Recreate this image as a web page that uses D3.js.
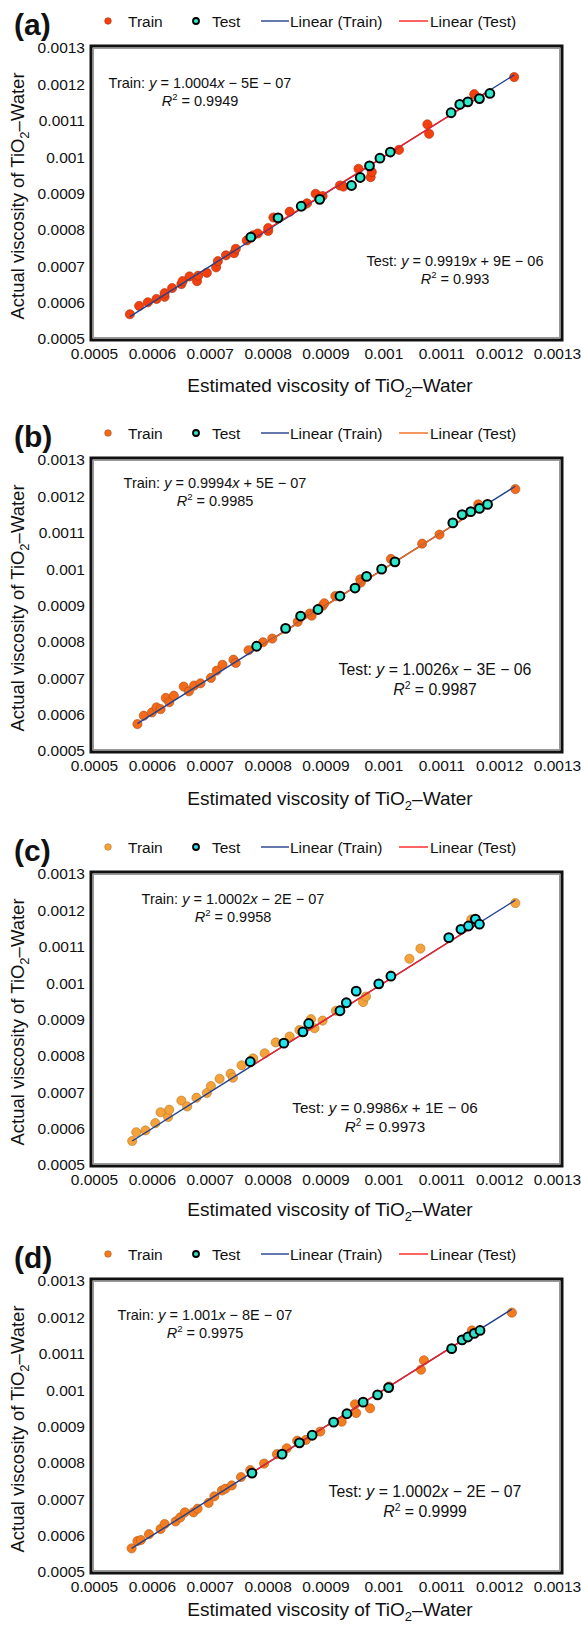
<!DOCTYPE html>
<html>
<head>
<meta charset="utf-8">
<script src="https://cdn.jsdelivr.net/npm/d3@7"></script>
<style>
  body { margin: 0; background: #fff; }
  text { font-family: "Liberation Sans", Arial, sans-serif; fill: #111; }
</style>
</head>
<body>
<svg id="chart"></svg>
<script>
// ---- data (viscosity values) ----
const panelLabels = ["(a)", "(b)", "(c)", "(d)"];
const tickLabels = ["0.0005", "0.0006", "0.0007", "0.0008", "0.0009", "0.001", "0.0011", "0.0012", "0.0013"];

const trainA = [[0.000562,0.000568],[0.000578,0.000591],[0.000593,0.000601],[0.000608,0.000610],[0.000622,0.000616],[0.000622,0.000626],[0.000635,0.000640],[0.000651,0.000651],[0.000653,0.000659],[0.000665,0.000672],[0.000678,0.000659],[0.000680,0.000674],[0.000695,0.000682],[0.000711,0.000697],[0.000714,0.000714],[0.000728,0.000730],[0.000742,0.000736],[0.000745,0.000748],[0.000764,0.000771],[0.000775,0.000785],[0.000783,0.000790],[0.000801,0.000797],[0.000801,0.000805],[0.000810,0.000834],[0.000838,0.000850],[0.000861,0.000866],[0.000868,0.000873],[0.000883,0.000899],[0.000895,0.000893],[0.000925,0.000922],[0.000931,0.000919],[0.000957,0.000968],[0.000978,0.000945],[0.000980,0.000959],[0.001027,0.001020],[0.001076,0.001090],[0.001079,0.001064],[0.001157,0.001173],[0.001226,0.001220]];
const testA = [[0.000771,0.000780],[0.000818,0.000833],[0.000858,0.000865],[0.000890,0.000884],[0.000945,0.000922],[0.000960,0.000944],[0.000976,0.000976],[0.000994,0.000997],[0.001012,0.001014],[0.001117,0.001122],[0.001132,0.001145],[0.001146,0.001152],[0.001166,0.001161],[0.001184,0.001175]];

const trainB = [[0.000575,0.000574],[0.000586,0.000597],[0.000600,0.000606],[0.000608,0.000620],[0.000615,0.000615],[0.000624,0.000646],[0.000630,0.000634],[0.000638,0.000652],[0.000655,0.000677],[0.000664,0.000664],[0.000673,0.000680],[0.000684,0.000686],[0.000702,0.000701],[0.000712,0.000721],[0.000722,0.000737],[0.000741,0.000751],[0.000745,0.000742],[0.000767,0.000777],[0.000792,0.000799],[0.000808,0.000809],[0.000852,0.000855],[0.000873,0.000878],[0.000876,0.000872],[0.000895,0.000899],[0.000898,0.000906],[0.000917,0.000926],[0.000960,0.000972],[0.000961,0.000963],[0.001013,0.001028],[0.001067,0.001070],[0.001097,0.001095],[0.001164,0.001178],[0.001228,0.001220]];
const testB = [[0.000781,0.000788],[0.000831,0.000837],[0.000857,0.000871],[0.000887,0.000889],[0.000925,0.000926],[0.000951,0.000948],[0.000971,0.000980],[0.000997,0.001000],[0.001020,0.001020],[0.001120,0.001127],[0.001136,0.001150],[0.001151,0.001158],[0.001166,0.001167],[0.001180,0.001178]];

const trainC = [[0.000566,0.000566],[0.000573,0.000590],[0.000589,0.000595],[0.000606,0.000615],[0.000615,0.000645],[0.000628,0.000632],[0.000630,0.000652],[0.000651,0.000677],[0.000661,0.000661],[0.000677,0.000685],[0.000695,0.000698],[0.000702,0.000717],[0.000717,0.000737],[0.000736,0.000751],[0.000740,0.000740],[0.000755,0.000774],[0.000775,0.000793],[0.000795,0.000807],[0.000814,0.000837],[0.000838,0.000853],[0.000855,0.000871],[0.000875,0.000901],[0.000881,0.000876],[0.000895,0.000897],[0.000918,0.000924],[0.000965,0.000948],[0.000970,0.000963],[0.001013,0.001021],[0.001045,0.001067],[0.001064,0.001095],[0.001152,0.001175],[0.001228,0.001220]];
const testC = [[0.000770,0.000784],[0.000828,0.000835],[0.000861,0.000866],[0.000871,0.000889],[0.000925,0.000924],[0.000936,0.000946],[0.000953,0.000978],[0.000992,0.000998],[0.001013,0.001019],[0.001113,0.001125],[0.001134,0.001148],[0.001147,0.001157],[0.001159,0.001176],[0.001166,0.001162]];

const trainD = [[0.000565,0.000565],[0.000575,0.000585],[0.000581,0.000588],[0.000595,0.000604],[0.000615,0.000618],[0.000622,0.000632],[0.000641,0.000639],[0.000649,0.000650],[0.000657,0.000664],[0.000672,0.000664],[0.000679,0.000674],[0.000698,0.000690],[0.000708,0.000708],[0.000721,0.000724],[0.000727,0.000729],[0.000738,0.000738],[0.000754,0.000761],[0.000770,0.000780],[0.000794,0.000798],[0.000816,0.000824],[0.000833,0.000840],[0.000851,0.000861],[0.000866,0.000863],[0.000891,0.000886],[0.000928,0.000913],[0.000951,0.000961],[0.000953,0.000937],[0.000977,0.000950],[0.001010,0.001010],[0.001065,0.001056],[0.001070,0.001082],[0.001153,0.001164],[0.001222,0.001213]];
const testD = [[0.000773,0.000772],[0.000825,0.000824],[0.000855,0.000855],[0.000877,0.000876],[0.000914,0.000912],[0.000937,0.000935],[0.000965,0.000967],[0.000990,0.000987],[0.001009,0.001007],[0.001118,0.001114],[0.001136,0.001138],[0.001146,0.001146],[0.001157,0.001156],[0.001167,0.001164]];

// fitted lines [slope, intercept] and their printed labels
const trainFit = [[1.0004, -5e-7], [0.9994, 5e-7], [1.0002, -2e-7], [1.001, -8e-7]];
const testFit = [[0.9919, 9e-6], [1.0026, -3e-6], [0.9986, 1e-6], [1.0002, -2e-7]];
const trainSlope = ["1.0004", "0.9994", "1.0002", "1.001"];
const trainInt = ["\u2212 5E \u2212 07", "+ 5E \u2212 07", "\u2212 2E \u2212 07", "\u2212 8E \u2212 07"];
const trainR2 = ["0.9949", "0.9985", "0.9958", "0.9975"];
const testSlope = ["0.9919", "1.0026", "0.9986", "1.0002"];
const testInt = ["+ 9E \u2212 06", "\u2212 3E \u2212 06", "+ 1E \u2212 06", "\u2212 2E \u2212 07"];
const testR2 = ["0.993", "0.9987", "0.9973", "0.9999"];

const trainSets = [trainA, trainB, trainC, trainD];
const testSets = [testA, testB, testC, testD];

// ---- styles per panel ----
const trainColor = ["#f4400c", "#f26a1a", "#f5a23a", "#f57b1f"];
const trainStroke = ["#a83010", "#a8501a", "#b07828", "#b05a18"];
const testColor = ["#2ee8c9", "#2ee8c9", "#22e4ee", "#2ee0c5"];
const testLineColor = ["#ff2020", "#f26a1a", "#ff2020", "#ff2020"];
const blue = "#22408f";

const panelY = [0, 412, 826, 1233];
const xTitleY = [392, 393, 390, 383];
// equation label centres [trainX, trainY, testX, testY] relative to panel, test font size
const eqPos = [[200, 83, 455, 261, 14.5], [215, 71, 435, 258, 15.8], [233, 73, 385, 282, 15.2], [205, 82, 425, 259, 15.8]];

const svg = d3.select('#chart').attr('width', 581).attr('height', 1625);

const x = d3.scaleLinear().domain([0.0005, 0.0013]).range([94, 557]);
const y = d3.scaleLinear().domain([0.0005, 0.0013]).range([339, 48]);
const tickVals = tickLabels.map(Number);

function writeEq(t, name, slope, intercept) {
    t.append('tspan').text(name + ': ');
    t.append('tspan').attr('font-style', 'italic').text('y');
    t.append('tspan').text(' = ' + slope);
    t.append('tspan').attr('font-style', 'italic').text('x');
    t.append('tspan').text(' ' + intercept);
}
function writeR2(t, val) {
    t.append('tspan').attr('font-style', 'italic').text('R');
    t.append('tspan').attr('dy', -6).attr('font-size', '0.66em').text('2');
    t.append('tspan').attr('dy', 6).text(' = ' + val);
}
function subTitle(t, before) {
    t.append('tspan').text(before + ' of TiO');
    t.append('tspan').attr('dy', 5).attr('font-size', 13).text('2');
    t.append('tspan').attr('dy', -5).text('\u2013Water');
}

panelLabels.forEach(function (lab, i) {
    const g = svg.append('g').attr('transform', 'translate(0,' + panelY[i] + ')');

    // panel letter
    g.append('text').attr('x', 14).attr('y', 35)
        .attr('font-size', 30).attr('font-weight', 'bold').text(lab);

    // legend
    const leg = g.append('g').attr('transform', 'translate(0,21)');
    leg.append('circle').attr('cx', 108).attr('cy', 0).attr('r', 3.3)
        .attr('fill', trainColor[i]).attr('stroke', trainStroke[i]).attr('stroke-width', 0.6);
    leg.append('text').attr('x', 128).attr('y', 5.5).attr('font-size', 15.5).text('Train');
    leg.append('circle').attr('cx', 196).attr('cy', 0).attr('r', 3)
        .attr('fill', testColor[i]).attr('stroke', '#000').attr('stroke-width', 1.8);
    leg.append('text').attr('x', 212).attr('y', 5.5).attr('font-size', 15.5).text('Test');
    leg.append('line').attr('x1', 261).attr('x2', 289).attr('y1', 0).attr('y2', 0)
        .attr('stroke', blue).attr('stroke-width', 1.4);
    leg.append('text').attr('x', 290).attr('y', 5.5).attr('font-size', 15.5).text('Linear (Train)');
    leg.append('line').attr('x1', 399).attr('x2', 428).attr('y1', 0).attr('y2', 0)
        .attr('stroke', testLineColor[i]).attr('stroke-width', 1.4);
    leg.append('text').attr('x', 430).attr('y', 5.5).attr('font-size', 15.5).text('Linear (Test)');

    // plot box
    g.append('rect').attr('x', 91).attr('y', 46).attr('width', 471).attr('height', 294)
        .attr('fill', '#fff').attr('stroke', '#111').attr('stroke-width', 3);
    g.append('rect').attr('x', 93.5).attr('y', 48.5).attr('width', 466).attr('height', 289)
        .attr('fill', 'none').attr('stroke', '#999').attr('stroke-width', 1);

    // axes
    g.append('g').attr('transform', 'translate(90,0)')
        .call(d3.axisLeft(y).tickValues(tickVals).tickSize(0).tickPadding(5)
            .tickFormat((d, k) => tickLabels[k]))
        .call(a => a.select('.domain').remove())
        .selectAll('text').attr('font-size', 15.5).attr('font-family', '"Liberation Sans", Arial, sans-serif').attr('fill', '#111');
    g.append('g').attr('transform', 'translate(0,340)')
        .call(d3.axisBottom(x).tickValues(tickVals).tickSize(0).tickPadding(8)
            .tickFormat((d, k) => tickLabels[k]))
        .call(a => a.select('.domain').remove())
        .selectAll('text').attr('font-size', 15.5).attr('font-family', '"Liberation Sans", Arial, sans-serif').attr('fill', '#111');

    // axis titles
    subTitle(g.append('text').attr('x', 330).attr('y', xTitleY[i]).attr('font-size', 19)
        .attr('text-anchor', 'middle'), 'Estimated viscosity');
    subTitle(g.append('text').attr('transform', 'translate(24,196) rotate(-90)')
        .attr('font-size', 18.5).attr('text-anchor', 'middle'), 'Actual viscosity');

    // points
    const tr = trainSets[i], te = testSets[i];
    g.append('g').selectAll('circle').data(tr).join('circle')
        .attr('cx', d => x(d[0])).attr('cy', d => y(d[1])).attr('r', 4.6)
        .attr('fill', trainColor[i]).attr('stroke', trainStroke[i]).attr('stroke-width', 0.6);

    // trend lines
    const line = d3.line().x(d => x(d[0])).y(d => y(d[1]));
    function fitLine(pts, fit) {
        const ext = d3.extent(pts, d => d[0]);
        return ext.map(v => [v, fit[0] * v + fit[1]]);
    }
    g.append('path').datum(fitLine(tr, trainFit[i])).attr('d', line)
        .attr('stroke', blue).attr('stroke-width', 1.4).attr('fill', 'none');
    g.append('path').datum(fitLine(te, testFit[i])).attr('d', line)
        .attr('stroke', testLineColor[i]).attr('stroke-width', 1.4).attr('fill', 'none');

    g.append('g').selectAll('circle').data(te).join('circle')
        .attr('cx', d => x(d[0])).attr('cy', d => y(d[1])).attr('r', 4.4)
        .attr('fill', testColor[i]).attr('stroke', '#000').attr('stroke-width', 2);

    // equations
    const p = eqPos[i];
    writeEq(g.append('text').attr('x', p[0]).attr('y', p[1] + 5).attr('font-size', 14.5)
        .attr('text-anchor', 'middle'), 'Train', trainSlope[i], trainInt[i]);
    writeR2(g.append('text').attr('x', p[0]).attr('y', p[1] + 23).attr('font-size', 14.5)
        .attr('text-anchor', 'middle'), trainR2[i]);
    writeEq(g.append('text').attr('x', p[2]).attr('y', p[3] + 5).attr('font-size', p[4])
        .attr('text-anchor', 'middle'), 'Test', testSlope[i], testInt[i]);
    writeR2(g.append('text').attr('x', p[2]).attr('y', p[3] + 5 + p[4] * 1.25).attr('font-size', p[4])
        .attr('text-anchor', 'middle'), testR2[i]);
});
</script>
</body>
</html>
